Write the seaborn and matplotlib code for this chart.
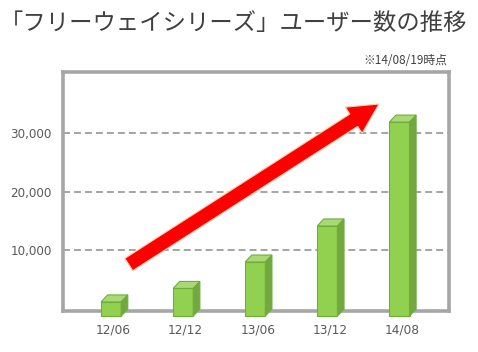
import matplotlib
matplotlib.use("Agg")
import matplotlib.pyplot as plt
import seaborn as sns
from matplotlib.patches import Polygon, FancyArrow

# ====== DATA ======
periods = ["12/06", "12/12", "13/06", "13/12", "14/08"]
users = [2400, 4700, 9200, 15350, 33050]
y_ticks = [10000, 20000, 30000]

title = "「フリーウェイシリーズ」ユーザー数の推移"
note = "※14/08/19時点"

# ====== STYLE ======
FRONT = "#92d050"
TOP = "#a9d977"
SIDE = "#72a83f"
EDGE = "#6fae3c"
FRAME = "#a6a6a6"
TEXT = "#404040"
TICK = "#595959"

sns.set_style("white")
plt.rcParams["font.family"] = ["Noto Sans CJK JP", "DejaVu Sans"]

W, H = 478, 352
fig = plt.figure(figsize=(W / 100, H / 100), dpi=100)
ax = fig.add_axes([63 / W, 1 - 311 / H, (449 - 63) / W, (311 - 72) / H])

sns.barplot(x=periods, y=users, ax=ax, width=0.28, color=FRONT,
            saturation=1, edgecolor=EDGE, linewidth=0.8)
ax.set_xlim(-0.702, 4.653)
ax.set_ylim(-341, 40395)

# ====== 3D look for the bars ======
x0p = ax.transData.transform((0, 0))
x1p = ax.transData.transform((1, 10000))
ppx = x1p[0] - x0p[0]
ppy = (x1p[1] - x0p[1]) / 10000

FX, FY = -2.5, -7.0   # front face offset (px)
BX = 4.1              # back face x offset (px)
for p in list(ax.patches):
    x0, w, h = p.get_x(), p.get_width(), p.get_height()
    fx0 = x0 + FX / ppx
    fx1 = fx0 + w
    fy0 = FY / ppy
    fy1 = h + fy0
    bx0 = x0 + BX / ppx
    bx1 = bx0 + w
    p.set_x(fx0)
    p.set_y(fy0)
    p.set_zorder(4)
    p.set_clip_on(False)
    top = Polygon([(fx0, fy1), (fx1, fy1), (bx1, h), (bx0, h)], closed=True,
                  fc=TOP, ec=EDGE, lw=0.8, zorder=4, clip_on=False)
    side = Polygon([(fx1, fy0), (fx1, fy1), (bx1, h), (bx1, 0)], closed=True,
                   fc=SIDE, ec=EDGE, lw=0.8, zorder=4, clip_on=False)
    ax.add_patch(top)
    ax.add_patch(side)

# ====== axes ======
ax.set_yticks(y_ticks)
ax.set_yticklabels([f"{v:,}" for v in y_ticks], family="DejaVu Sans")
ax.set_xticks(range(len(periods)))
ax.set_xticklabels(periods, family="DejaVu Sans")
ax.tick_params(axis="y", length=0, pad=8, labelcolor=TICK, labelsize=8.6)
ax.tick_params(axis="x", length=0, pad=9, labelcolor=TICK, labelsize=8.7)
ax.set_xlabel("")
ax.set_ylabel("")
ax.set_axisbelow(True)
ax.yaxis.grid(True, color=FRAME, linewidth=1.45, linestyle=(0, (3.45, 2.0)))
for s in ax.spines.values():
    s.set_visible(True)
    s.set_color(FRAME)
    s.set_linewidth(2.6)

# ====== arrow ======
arrow = FancyArrow(128.8 / 100, (H - 264.5) / 100, 250.2 / 100, 160.5 / 100,
                   width=0.146, head_width=0.31, head_length=0.30,
                   length_includes_head=True, fc="#ff0000", ec="#f8cbad",
                   lw=0.8, transform=fig.dpi_scale_trans, zorder=5)
fig.add_artist(arrow)

# ====== text ======
fig.text(0 / W, 1 - 23 / H, title, fontsize=16.8, color=TEXT,
         ha="left", va="center")
fig.text(447 / W, 1 - 60 / H, note, fontsize=8.5, color=TEXT,
         ha="right", va="center")

fig.savefig("out.png", dpi=100)
